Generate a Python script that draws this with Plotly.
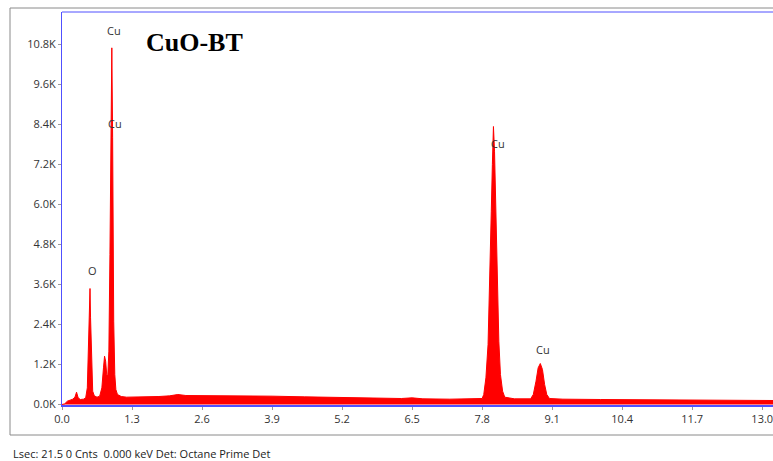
import plotly.graph_objects as go

# ---- data (energy keV, counts) ----
energy_kev = [
    0.00, 0.05, 0.10, 0.15, 0.20, 0.24, 0.27, 0.30, 0.34, 0.40, 0.44, 0.47, 0.49, 0.51, 0.52, 0.53,
    0.55, 0.57, 0.60, 0.65, 0.70, 0.74, 0.77, 0.79, 0.81, 0.83, 0.85, 0.87, 0.89, 0.91, 0.925,
    0.94, 0.96, 0.98, 1.00, 1.03, 1.10, 1.20, 1.30, 1.50, 1.80, 2.00, 2.15, 2.30, 2.60, 3.00,
    3.50, 3.90, 4.50, 5.20, 5.80, 6.30, 6.50, 6.70, 7.20, 7.60, 7.80, 7.83, 7.87, 7.91, 7.94,
    7.97, 7.99, 8.01, 8.03, 8.05, 8.08, 8.11, 8.14, 8.18, 8.22, 8.40, 8.70, 8.75, 8.80, 8.84,
    8.88, 8.92, 8.96, 9.00, 9.05, 9.30, 10.00, 11.00, 12.00, 13.00, 13.20,
]
counts = [
    0, 20, 100, 140, 160, 220, 370, 200, 150, 160, 200, 500, 1600, 3000, 3480, 2600,
    1000, 400, 260, 220, 250, 500, 1100, 1450, 1300, 900, 850, 1600, 4500, 8300, 10700,
    8000, 2500, 900, 450, 300, 240, 220, 220, 230, 240, 260, 300, 270, 270, 270,
    260, 250, 230, 210, 190, 180, 200, 170, 160, 160, 180, 300, 800, 1800, 3500,
    5800, 7200, 8340, 7600, 6000, 3800, 1900, 900, 400, 220, 170, 170, 300, 700, 1100,
    1230, 1050, 600, 300, 180, 160, 150, 140, 130, 120, 120,
]

x_tick_vals = [0.0, 1.3, 2.6, 3.9, 5.2, 6.5, 7.8, 9.1, 10.4, 11.7, 13.0]
x_tick_text = ["0.0", "1.3", "2.6", "3.9", "5.2", "6.5", "7.8", "9.1", "10.4", "11.7", "13.0"]
y_tick_vals = [0, 1200, 2400, 3600, 4800, 6000, 7200, 8400, 9600, 10800]
y_tick_text = ["0.0K", "1.2K", "2.4K", "3.6K", "4.8K", "6.0K", "7.2K", "8.4K", "9.6K", "10.8K"]

peak_labels = ["Cu", "Cu", "O", "Cu", "Cu"]
peak_label_x = [0.966, 0.98, 0.557, 8.10, 8.93]
peak_label_y = [11220, 8430, 4020, 7830, 1650]

title_text = "CuO-BT"
footer_text = "Lsec: 21.5 0 Cnts  0.000 keV Det: Octane Prime Det"

# pixel -> paper helpers (plot area: x 62..773, y 12..405)
pw, ph = 773 - 62, 461 - 12 - 56
def px(xp):
    return (xp - 62) / pw
def py(yp):
    return (461 - 56 - yp) / ph

fig = go.Figure()
fig.add_trace(go.Scatter(
    x=energy_kev, y=counts, mode="lines", fill="tozeroy",
    line=dict(color="#ff0000", width=1), fillcolor="#ff0000",
    hoverinfo="skip", showlegend=False,
))

for t, xx, yy in zip(peak_labels, peak_label_x, peak_label_y):
    fig.add_annotation(x=xx, y=yy, xref="x", yref="y", text=t, showarrow=False,
                       font=dict(family="Open Sans", size=11, color="#333333"))

fig.add_annotation(x=px(194), y=py(42), xref="paper", yref="paper", text=f"<b>{title_text}</b>",
                   xanchor="center", yanchor="middle", showarrow=False,
                   font=dict(family="Liberation Serif", size=26, color="#000000"))

fig.add_annotation(x=px(11), y=py(453), xref="paper", yref="paper", text=footer_text,
                   showarrow=False, xanchor="left", yanchor="middle",
                   font=dict(family="Open Sans", size=11, color="#222222"))

blue = "#5050ff"
fig.update_layout(
    width=773, height=461,
    margin=dict(l=62, r=0, t=12, b=56),
    paper_bgcolor="white", plot_bgcolor="white",
    xaxis=dict(range=[0, 13.2], tickvals=x_tick_vals, ticktext=x_tick_text,
               showgrid=False, zeroline=False, showline=True, linecolor=blue, linewidth=2,
               ticks="outside", ticklen=3, tickcolor="#999999", ticklabeloverflow="allow",
               tickfont=dict(family="Open Sans", size=11, color="#333333")),
    yaxis=dict(range=[-15, 11775], tickvals=y_tick_vals, ticktext=y_tick_text,
               showgrid=False, zeroline=False, showline=True, linecolor=blue, linewidth=1,
               ticks="outside", ticklen=3, tickcolor="#999999",
               tickfont=dict(family="Open Sans", size=11, color="#333333")),
)

# blue top frame line
fig.add_shape(type="line", xref="paper", yref="paper", x0=0, x1=1, y0=1, y1=1,
              line=dict(color=blue, width=1))
# gray outer frame
gray = "#8a8a8a"
fig.add_shape(type="line", xref="paper", yref="paper", x0=px(10), x1=1.01, y0=py(8), y1=py(8),
              line=dict(color=gray, width=1))
fig.add_shape(type="line", xref="paper", yref="paper", x0=px(10), x1=px(10), y0=py(8), y1=py(435),
              line=dict(color=gray, width=1))
fig.add_shape(type="line", xref="paper", yref="paper", x0=px(10), x1=1.01, y0=py(435), y1=py(435),
              line=dict(color=gray, width=1))

fig.write_html("out.html")
